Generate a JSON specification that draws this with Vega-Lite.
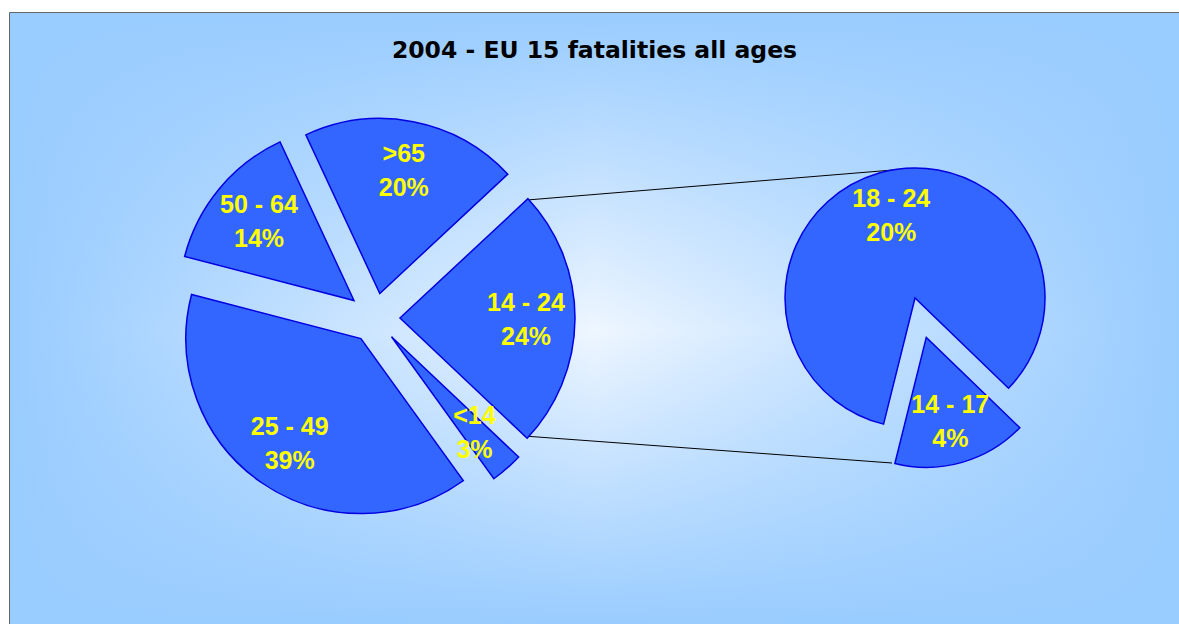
{
  "$schema": "https://vega.github.io/schema/vega-lite/v6.json",
  "width": 1169,
  "height": 611,
  "autosize": "none",
  "padding": {"left": 10, "top": 13, "right": 0, "bottom": 0},
  "background": "white",
  "config": {"view": {"stroke": "#333333", "strokeWidth": 1.5}},
  "title": {
    "text": "2004 - EU 15 fatalities all ages",
    "font": "DejaVu Sans",
    "fontSize": 23.5,
    "fontWeight": "bold",
    "color": "#000000",
    "anchor": "middle",
    "frame": "group",
    "baseline": "alphabetic",
    "offset": -68
  },
  "datasets": {
    "slices": [
      {"pie": "main", "age": "14 - 24", "share": 0.24},
      {"pie": "main", "age": "<14", "share": 0.03},
      {"pie": "main", "age": "25 - 49", "share": 0.39},
      {"pie": "main", "age": "50 - 64", "share": 0.14},
      {"pie": "main", "age": ">65", "share": 0.20},
      {"pie": "detail", "age": "14 - 17", "share": 0.04},
      {"pie": "detail", "age": "18 - 24", "share": 0.20}
    ],
    "connectors": [
      {"edge": "top", "from": "main", "to": "detail"},
      {"edge": "bottom", "from": "main", "to": "detail"}
    ]
  },
  "layer": [
    {
      "data": {"values": [{}]},
      "mark": {"type": "rect", "fill": {"gradient": "linear", "x1": 0, "y1": 0, "x2": 1, "y2": 0, "stops": [{"offset": 0, "color": "#99CCFF"}, {"offset": 0.5, "color": "#EEF6FF"}, {"offset": 1, "color": "#99CCFF"}]}},
      "encoding": {"x": {"value": 0}, "x2": {"value": "width"}, "y": {"value": 0}, "y2": {"value": "height"}}
    },
    {
      "data": {"values": [{}]},
      "mark": {"type": "rect", "fill": {"gradient": "linear", "x1": 0, "y1": 0, "x2": 0, "y2": 1, "stops": [{"offset": 0, "color": "rgba(153,204,255,1)"}, {"offset": 0.52, "color": "rgba(153,204,255,0)"}, {"offset": 1, "color": "rgba(153,204,255,1)"}]}},
      "encoding": {"x": {"value": 0}, "x2": {"value": "width"}, "y": {"value": 0}, "y2": {"value": "height"}}
    },
    {
      "data": {"name": "connectors"},
      "transform": [{"filter": "datum.edge === 'top'"}],
      "mark": {"type": "rule", "color": "#000000", "strokeWidth": 1, "xOffset": 152, "yOffset": -118, "x2Offset": -22, "y2Offset": -128},
      "encoding": {
        "x": {"field": "from", "type": "nominal", "scale": {"type": "point", "padding": 0, "domain": ["main", "detail"], "range": [365, 905]}, "axis": null},
        "x2": {"field": "to"},
        "y": {"field": "from", "type": "nominal", "scale": {"type": "point", "padding": 0, "domain": ["main", "detail"], "range": [305, 285]}, "axis": null},
        "y2": {"field": "to"}
      }
    },
    {
      "data": {"name": "connectors"},
      "transform": [{"filter": "datum.edge === 'bottom'"}],
      "mark": {"type": "rule", "color": "#000000", "strokeWidth": 1, "xOffset": 149, "yOffset": 118, "x2Offset": -23, "y2Offset": 165},
      "encoding": {
        "x": {"field": "from", "type": "nominal", "scale": {"type": "point", "padding": 0, "domain": ["main", "detail"], "range": [365, 905]}, "axis": null},
        "x2": {"field": "to"},
        "y": {"field": "from", "type": "nominal", "scale": {"type": "point", "padding": 0, "domain": ["main", "detail"], "range": [305, 285]}, "axis": null},
        "y2": {"field": "to"}
      }
    },
    {
      "data": {"name": "slices"},
      "transform": [{"stack": "share", "groupby": ["pie"], "as": ["v0", "v1"]}],
      "encoding": {
        "x": {"field": "pie", "type": "nominal", "scale": {"type": "point", "padding": 0, "domain": ["main", "detail"], "range": [365, 905]}, "axis": null},
        "y": {"field": "pie", "type": "nominal", "scale": {"type": "point", "padding": 0, "domain": ["main", "detail"], "range": [305, 285]}, "axis": null}
      },
      "layer": [
        {
          "transform": [{"filter": "datum.age === '14 - 24'"}],
          "mark": {"type": "arc", "outerRadius": 175, "fill": "#3366FF", "stroke": "#0000E0", "strokeWidth": 1.5, "xOffset": 25, "yOffset": 0},
          "encoding": {"theta": {"field": "v0", "type": "quantitative", "scale": {"domain": [0, 1], "range": [0.8203, 7.1035]}}, "theta2": {"field": "v1"}}
        },
        {
          "transform": [{"filter": "datum.age === '<14'"}],
          "mark": {"type": "arc", "outerRadius": 175, "fill": "#3366FF", "stroke": "#0000E0", "strokeWidth": 1.5, "xOffset": 16.5, "yOffset": 18.8},
          "encoding": {"theta": {"field": "v0", "type": "quantitative", "scale": {"domain": [0, 1], "range": [0.8203, 7.1035]}}, "theta2": {"field": "v1"}}
        },
        {
          "transform": [{"filter": "datum.age === '25 - 49'"}],
          "mark": {"type": "arc", "outerRadius": 175, "fill": "#3366FF", "stroke": "#0000E0", "strokeWidth": 1.5, "xOffset": -14.1, "yOffset": 20.6},
          "encoding": {"theta": {"field": "v0", "type": "quantitative", "scale": {"domain": [0, 1], "range": [0.8203, 7.1035]}}, "theta2": {"field": "v1"}}
        },
        {
          "transform": [{"filter": "datum.age === '50 - 64'"}],
          "mark": {"type": "arc", "outerRadius": 175, "fill": "#3366FF", "stroke": "#0000E0", "strokeWidth": 1.5, "xOffset": -21, "yOffset": -17.5},
          "encoding": {"theta": {"field": "v0", "type": "quantitative", "scale": {"domain": [0, 1], "range": [0.8203, 7.1035]}}, "theta2": {"field": "v1"}}
        },
        {
          "transform": [{"filter": "datum.age === '>65'"}],
          "mark": {"type": "arc", "outerRadius": 175, "fill": "#3366FF", "stroke": "#0000E0", "strokeWidth": 1.5, "xOffset": 4.8, "yOffset": -24.5},
          "encoding": {"theta": {"field": "v0", "type": "quantitative", "scale": {"domain": [0, 1], "range": [0.8203, 7.1035]}}, "theta2": {"field": "v1"}}
        },
        {
          "transform": [{"filter": "datum.age === '18 - 24'"}],
          "mark": {"type": "arc", "outerRadius": 130, "fill": "#3366FF", "stroke": "#0000E0", "strokeWidth": 1.5},
          "encoding": {"theta": {"field": "v0", "type": "quantitative", "scale": {"domain": [0, 0.24], "range": [2.3387, 8.6219]}}, "theta2": {"field": "v1"}}
        },
        {
          "transform": [{"filter": "datum.age === '14 - 17'"}],
          "mark": {"type": "arc", "outerRadius": 130, "fill": "#3366FF", "stroke": "#0000E0", "strokeWidth": 1.5, "xOffset": 11.3, "yOffset": 39.4},
          "encoding": {"theta": {"field": "v0", "type": "quantitative", "scale": {"domain": [0, 0.24], "range": [2.3387, 8.6219]}}, "theta2": {"field": "v1"}}
        },
        {
          "transform": [{"filter": "datum.pie === 'main'"}],
          "mark": {"type": "text", "radius": 151, "font": "Liberation Sans", "fontSize": 25, "fontWeight": "bold", "color": "#FFFF00", "baseline": "alphabetic", "align": "center", "dy": -8},
          "encoding": {
            "theta": {"field": "share", "type": "quantitative", "stack": true, "scale": {"domain": [0, 1], "range": [0.8203, 7.1035]}},
            "order": {"field": "v0", "type": "quantitative"},
            "text": {"field": "age", "type": "nominal"}
          }
        },
        {
          "transform": [{"filter": "datum.pie === 'main'"}],
          "mark": {"type": "text", "radius": 151, "font": "Liberation Sans", "fontSize": 25, "fontWeight": "bold", "color": "#FFFF00", "baseline": "alphabetic", "align": "center", "dy": 26},
          "encoding": {
            "theta": {"field": "share", "type": "quantitative", "stack": true, "scale": {"domain": [0, 1], "range": [0.8203, 7.1035]}},
            "order": {"field": "v0", "type": "quantitative"},
            "text": {"field": "share", "type": "quantitative", "format": ".0%"}
          }
        },
        {
          "transform": [{"filter": "datum.pie === 'detail'"}],
          "mark": {"type": "text", "radius": 86, "font": "Liberation Sans", "fontSize": 25, "fontWeight": "bold", "color": "#FFFF00", "baseline": "alphabetic", "align": "center", "dy": -8},
          "encoding": {
            "theta": {"field": "share", "type": "quantitative", "stack": true, "scale": {"domain": [0, 0.24], "range": [2.3387, 8.6219]}},
            "order": {"field": "v0", "type": "quantitative"},
            "detail": {"field": "age", "type": "nominal"},
            "text": {"condition": {"test": "datum.age === '18 - 24'", "field": "age", "type": "nominal"}, "value": ""}
          }
        },
        {
          "transform": [{"filter": "datum.pie === 'detail'"}],
          "mark": {"type": "text", "radius": 86, "font": "Liberation Sans", "fontSize": 25, "fontWeight": "bold", "color": "#FFFF00", "baseline": "alphabetic", "align": "center", "dy": 26},
          "encoding": {
            "theta": {"field": "share", "type": "quantitative", "stack": true, "scale": {"domain": [0, 0.24], "range": [2.3387, 8.6219]}},
            "order": {"field": "v0", "type": "quantitative"},
            "detail": {"field": "age", "type": "nominal"},
            "text": {"condition": {"test": "datum.age === '18 - 24'", "field": "share", "type": "quantitative", "format": ".0%"}, "value": ""}
          }
        },
        {
          "transform": [{"filter": "datum.pie === 'detail'"}],
          "mark": {"type": "text", "radius": 128, "font": "Liberation Sans", "fontSize": 25, "fontWeight": "bold", "color": "#FFFF00", "baseline": "alphabetic", "align": "center", "dy": -8},
          "encoding": {
            "theta": {"field": "share", "type": "quantitative", "stack": true, "scale": {"domain": [0, 0.24], "range": [2.3387, 8.6219]}},
            "order": {"field": "v0", "type": "quantitative"},
            "detail": {"field": "age", "type": "nominal"},
            "text": {"condition": {"test": "datum.age === '14 - 17'", "field": "age", "type": "nominal"}, "value": ""}
          }
        },
        {
          "transform": [{"filter": "datum.pie === 'detail'"}],
          "mark": {"type": "text", "radius": 128, "font": "Liberation Sans", "fontSize": 25, "fontWeight": "bold", "color": "#FFFF00", "baseline": "alphabetic", "align": "center", "dy": 26},
          "encoding": {
            "theta": {"field": "share", "type": "quantitative", "stack": true, "scale": {"domain": [0, 0.24], "range": [2.3387, 8.6219]}},
            "order": {"field": "v0", "type": "quantitative"},
            "detail": {"field": "age", "type": "nominal"},
            "text": {"condition": {"test": "datum.age === '14 - 17'", "field": "share", "type": "quantitative", "format": ".0%"}, "value": ""}
          }
        }
      ],
      "resolve": {"scale": {"theta": "independent"}}
    }
  ]
}
